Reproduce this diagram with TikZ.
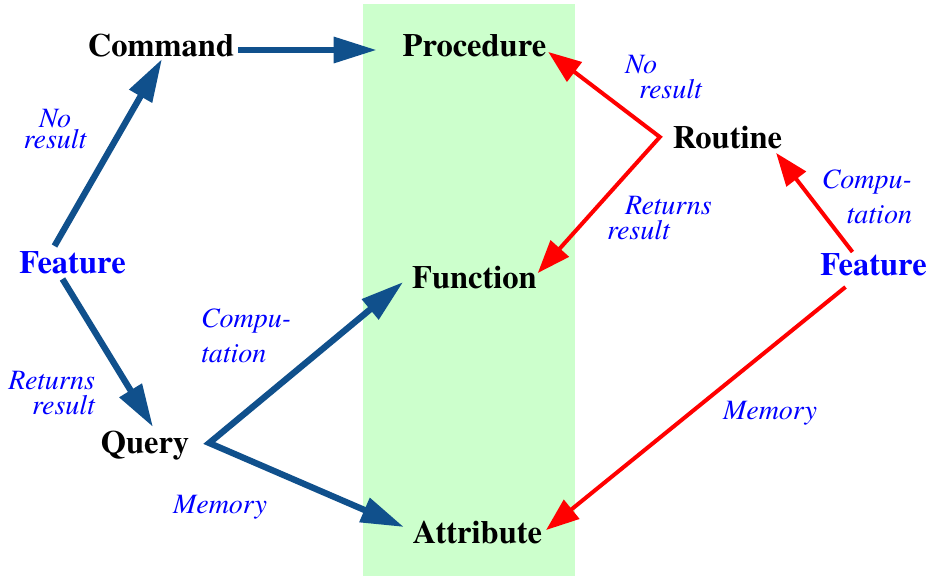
\documentclass[tikz,border=0pt]{standalone}
\usepackage{fontspec}
\setmainfont{TeX Gyre Termes}
\usetikzlibrary{arrows.meta}

\definecolor{c10508c}{RGB}{16,80,140}
\definecolor{cff0000}{RGB}{255,0,0}
\definecolor{c0000ff}{RGB}{0,0,255}
\definecolor{cccffcc}{RGB}{204,255,204}

\tikzset{
  bluehead/.tip={Triangle[length=43pt,width=25pt]},
  redhead/.tip={Triangle[length=33pt,width=24pt]}
}

\begin{document}
\begin{tikzpicture}[y=1pt, x=1pt, yscale=-1, inner sep=0pt, outer sep=0pt,
    word/.style={font=\fontsize{32.5}{36}\selectfont\bfseries, anchor=base},
    note/.style={font=\fontsize{28}{#1}\selectfont\itshape, text=c0000ff},
    note/.default=25,
    bluearrow/.style={draw=c10508c, line width=6.3pt, line join=miter},
    redarrow/.style={draw=cff0000, line width=4pt, line join=miter}]
  \useasboundingbox (0,0) rectangle (932,576);
  \path[fill=cccffcc] (363,4) rectangle (575,576);

  \path (161,56) node[word] (textcommand) {Command};
  \path (474.5,56) node[word] (textprocedure) {Procedure};
  \path (727.5,148) node[word] (textroutine) {Routine};
  \path (72.5,273) node[word, text=c0000ff] (textfeatureleft) {Feature};
  \path (873.5,275) node[word, text=c0000ff] (textfeatureright) {Feature};
  \path (474.5,288) node[word] (textfunction) {Function};
  \path (145,453) node[word] (textquery) {Query};
  \path (477.5,543) node[word] (textattribute) {Attribute};

  \path (55,109) node[note=21, anchor=north, align=center] (textnoleft)
    {No\\result};
  \path (625,55.5) node[note, anchor=north west, align=left] (textnoright)
    {No\\\hspace*{14pt}result};
  \path (607,196) node[note, anchor=north west, align=left] (textreturnsright)
    {\hspace*{18pt}Returns\\result};
  \path (912,170) node[note=35, anchor=north east, align=right] (textcompright)
    {Compu-\\tation};
  \path (201,309) node[note=35, anchor=north west, align=left] (textcompleft)
    {Compu-\\tation};
  \path (95,371) node[note, anchor=north east, align=right] (textreturnsleft)
    {Returns\\result};
  \path (173,513) node[note, anchor=base west] (textmemoryleft) {Memory};
  \path (723,419) node[note, anchor=base west] (textmemoryright) {Memory};

  \coordinate (querycorner) at ([shift={(20,-10)}]textquery.base east);
  \coordinate (routinecorner) at ([shift={(-13,-11)}]textroutine.base west);

  \draw[bluearrow, -bluehead] ([shift={(4,-6)}]textcommand.base east) --
    ([shift={(-26,-6)}]textprocedure.base west);
  \draw[bluearrow, -bluehead] ([shift={(-18,-27)}]textfeatureleft.base) --
    ([shift={(1,3)}]textcommand.base);
  \draw[bluearrow, -bluehead] ([shift={(-10,6)}]textfeatureleft.base) --
    ([shift={(8,-26)}]textquery.base);
  \draw[bluearrow, bluehead-bluehead] ([shift={(-9,-6)}]textfunction.base west)
    -- (querycorner) -- ([shift={(-9,-16)}]textattribute.base west);

  \draw[redarrow, redhead-redhead] ([shift={(2,-4)}]textprocedure.base east) --
    (routinecorner) -- ([shift={(1,-15)}]textfunction.base east);
  \draw[redarrow, -redhead] ([shift={(-21,-23)}]textfeatureright.base) --
    ([shift={(-6,5)}]textroutine.base east);
  \draw[redarrow, -redhead] ([shift={(-28,12)}]textfeatureright.base) --
    ([shift={(4,-13)}]textattribute.base east);
\end{tikzpicture}
\end{document}
